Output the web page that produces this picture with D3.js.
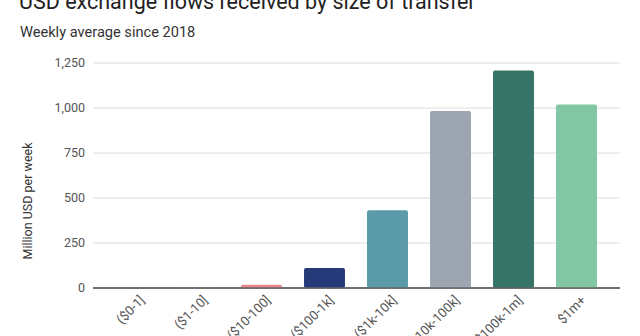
<!DOCTYPE html>
<html>
<head>
<meta charset="utf-8">
<script src="https://cdn.jsdelivr.net/npm/d3@7"></script>
<style>
  body { margin: 0; background: #fff; }
  text { font-family: Roboto, "Noto Sans", sans-serif; }
</style>
</head>
<body>
<div id="chart"></div>
<script>

var categories = ["($0-1]", "($1-10]", "($10-100]", "($100-1k]", "($1k-10k]", "($10k-100k]", "($100k-1m]", "$1m+"];
var values = [0.2, 1, 18, 111, 432, 983, 1209, 1020];
var colors = ["#e8868a", "#e8868a", "#e8868a", "#253a78", "#5b9aa9", "#9da5b0", "#357466", "#82c6a4"];
var yTicks = [0, 250, 500, 750, 1000, 1250];

var width = 640, height = 336;

var svg = d3.select("#chart").append("svg")
    .attr("width", width)
    .attr("height", height);

// title (cut off at the top like the source image)
svg.append("text")
    .attr("x", 19)
    .attr("y", 9)
    .style("font-size", "21.5px")
    .style("fill", "#222")
    .text("USD exchange flows received by size of transfer");

svg.append("text")
    .attr("x", 20)
    .attr("y", 37)
    .style("font-size", "14.6px")
    .style("fill", "#333")
    .text("Weekly average since 2018");

var xScale = d3.scaleBand()
    .domain(categories)
    .range([104, 608])
    .paddingInner(0.35)
    .paddingOuter(0.175);

var yScale = d3.scaleLinear()
    .domain([0, 1250])
    .range([288, 63]);

// gridlines
svg.append("g")
    .selectAll("line")
    .data(yTicks)
    .enter().append("line")
    .attr("x1", 93)
    .attr("x2", 620)
    .attr("y1", function(d) { return yScale(d); })
    .attr("y2", function(d) { return yScale(d); })
    .attr("stroke", function(d) { return d == 0 ? "#666" : "#dcdcdc"; })
    .attr("stroke-width", function(d) { return d == 0 ? 1.5 : 1; });

// y tick labels
svg.append("g")
    .selectAll("text")
    .data(yTicks)
    .enter().append("text")
    .attr("x", 85)
    .attr("y", function(d) { return yScale(d); })
    .attr("dy", "0.35em")
    .attr("text-anchor", "end")
    .style("font-size", "12.5px")
    .style("fill", "#555")
    .text(function(d) { return d3.format(",")(d); });

svg.append("text")
    .attr("transform", "translate(32,201) rotate(-90)")
    .attr("text-anchor", "middle")
    .style("font-size", "12.5px")
    .style("fill", "#333")
    .text("Million USD per week");

// bars
svg.append("g")
    .selectAll("rect")
    .data(values)
    .enter().append("rect")
    .attr("x", function(d, i) { return xScale(categories[i]); })
    .attr("y", function(d) { return yScale(d); })
    .attr("width", xScale.bandwidth())
    .attr("height", function(d) { return yScale(0) - yScale(d); })
    .attr("rx", 2)
    .attr("fill", function(d, i) { return colors[i]; });

// redraw baseline over bars
svg.append("line")
    .attr("x1", 93)
    .attr("x2", 620)
    .attr("y1", yScale(0))
    .attr("y2", yScale(0))
    .attr("stroke", "#666")
    .attr("stroke-width", 1.5);

// x labels, rotated
svg.append("g")
    .selectAll("text")
    .data(categories)
    .enter().append("text")
    .attr("transform", function(d) {
        return "translate(" + (xScale(d) + xScale.bandwidth() / 2 + 10) + ",301) rotate(-45)";
    })
    .attr("text-anchor", "end")
    .style("font-size", "13px")
    .style("fill", "#555")
    .text(function(d) { return d; });

</script>
</body>
</html>
